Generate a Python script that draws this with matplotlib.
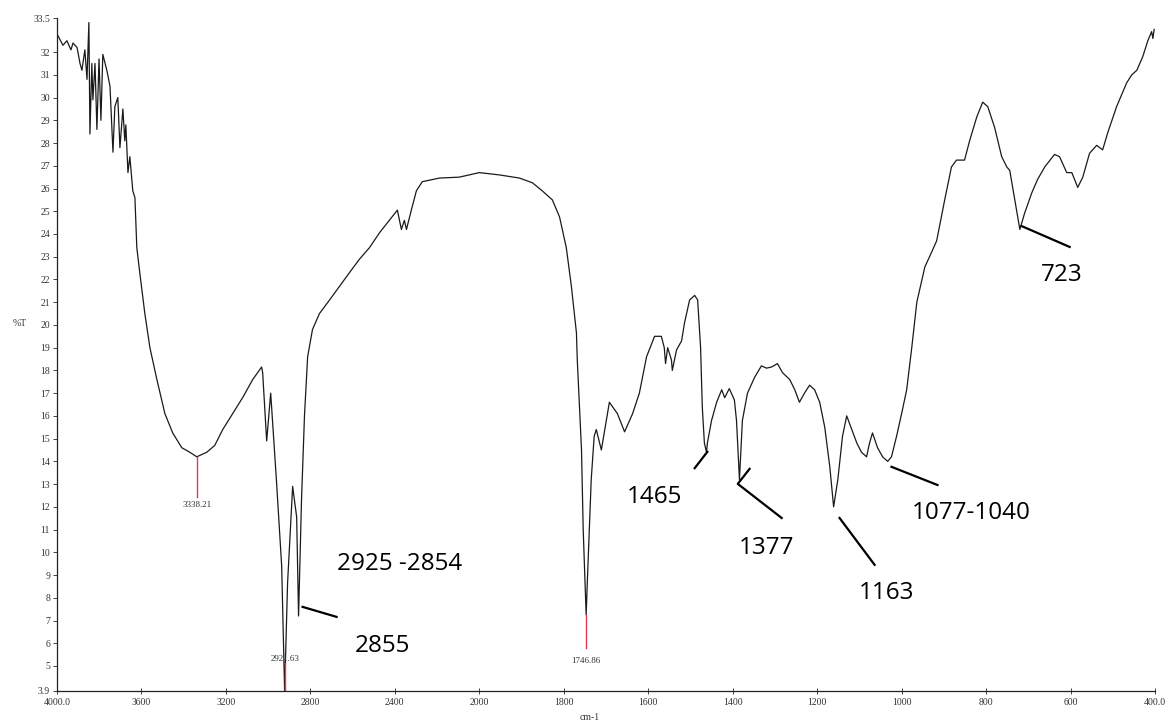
import matplotlib
matplotlib.use('Agg')
import matplotlib.pyplot as plt
import numpy as np

# FTIR transmittance spectrum (%T vs wavenumber)
wavenumber = [4000, 3972, 3953, 3934, 3924, 3905, 3891, 3882, 3868, 3858,
              3849, 3844, 3835, 3830, 3820, 3811, 3801, 3792, 3783, 3764,
              3749, 3735, 3726, 3712, 3702, 3688, 3679, 3674, 3664, 3655,
              3641, 3631, 3622, 3608, 3584, 3560, 3527, 3489, 3452, 3409,
              3371, 3338, 3291, 3253, 3215, 3168, 3121, 3073, 3031, 3026,
              3007, 2988, 2960, 2936, 2922, 2908, 2884, 2865, 2856, 2842,
              2828, 2813, 2790, 2757, 2709, 2662, 2615, 2567, 2520, 2473,
              2426, 2388, 2369, 2355, 2345, 2322, 2298, 2270, 2189, 2095,
              2000, 1953, 1905, 1874, 1851, 1827, 1810, 1794, 1782, 1770,
              1768, 1758, 1754, 1747, 1744, 1735, 1728, 1723, 1711, 1692,
              1673, 1656, 1637, 1621, 1604, 1585, 1569, 1562, 1559, 1554,
              1545, 1543, 1533, 1521, 1514, 1502, 1490, 1483, 1476, 1472,
              1467, 1462, 1460, 1450, 1438, 1426, 1419, 1408, 1396, 1391,
              1384, 1377, 1365, 1348, 1332, 1320, 1308, 1294, 1282, 1265,
              1253, 1242, 1230, 1218, 1206, 1194, 1182, 1170, 1161, 1151,
              1140, 1130, 1118, 1106, 1095, 1083, 1076, 1069, 1057, 1045,
              1033, 1024, 1012, 1000, 988, 976, 964, 945, 929, 917,
              898, 882, 870, 851, 839, 822, 808, 796, 780, 763,
              751, 744, 732, 720, 709, 692, 678, 661, 638, 626,
              609, 597, 583, 571, 555, 538, 524, 512, 491, 467,
              455, 443, 429, 417, 408, 405, 402]
transmittance = [32.8, 32.3, 32.5, 32.1, 32.4, 32.2, 31.5, 31.2, 32.1, 30.8,
                 33.3, 28.4, 31.5, 29.9, 31.5, 28.6, 31.7, 29.0, 31.9, 31.2,
                 30.5, 27.6, 29.6, 30.0, 27.8, 29.5, 28.1, 28.8, 26.7, 27.4,
                 25.9, 25.6, 23.4, 22.3, 20.5, 19.0, 17.6, 16.1, 15.25, 14.6,
                 14.4, 14.2, 14.4, 14.7, 15.4, 16.1, 16.8, 17.6, 18.15, 17.9,
                 14.9, 17.0, 13.05, 9.4, 3.9, 8.65, 12.9, 11.55, 7.2, 12.3,
                 16.0, 18.6, 19.8, 20.5, 21.1, 21.7, 22.3, 22.9, 23.4, 24.05,
                 24.6, 25.05, 24.2, 24.6, 24.2, 25.05, 25.9, 26.3, 26.46, 26.5,
                 26.7, 26.6, 26.46, 26.25, 25.9, 25.5, 24.75, 23.4, 21.7, 19.65,
                 18.46, 14.5, 11.0, 7.25, 8.8, 13.2, 15.1, 15.4, 14.5, 16.6,
                 16.1, 15.3, 16.1, 17.0, 18.6, 19.5, 19.5, 19.0, 18.3, 19.0,
                 18.46, 18.0, 18.9, 19.3, 20.1, 21.1, 21.3, 21.1, 19.0, 16.4,
                 14.8, 14.4, 14.8, 15.8, 16.6, 17.15, 16.8, 17.2, 16.7, 15.8,
                 13.2, 15.8, 17.0, 17.7, 18.2, 18.1, 18.15, 18.3, 17.9, 17.6,
                 17.15, 16.6, 17.0, 17.35, 17.15, 16.6, 15.5, 13.75, 12.0, 13.2,
                 15.1, 16.0, 15.4, 14.8, 14.4, 14.2, 14.8, 15.25, 14.6, 14.2,
                 14.0, 14.2, 15.1, 16.1, 17.15, 19.0, 21.0, 22.55, 23.2, 23.7,
                 25.5, 26.95, 27.25, 27.25, 28.1, 29.15, 29.8, 29.6, 28.7, 27.4,
                 26.95, 26.8, 25.5, 24.2, 24.9, 25.8, 26.4, 26.95, 27.5, 27.4,
                 26.7, 26.7, 26.05, 26.5, 27.55, 27.9, 27.7, 28.45, 29.6, 30.65,
                 31.0, 31.2, 31.8, 32.5, 32.9, 32.6, 33.0]

# peaks picked by the instrument software (red markers)
peak_pos = [3338.21, 2921.63, 1746.86]
peak_top = [14.2, 5.15, 7.25]
peak_bottom = [12.45, 3.9, 5.8]
peak_label_y = [12.1, 5.3, 5.2]

# hand-made band assignments: label, text position, leader segments
band_labels = ['2925 -2854', '2855', '1465', '1377', '1163', '1077-1040', '723']
band_text_x = [2378, 2459, 1585, 1320, 1035, 834, 621]
band_text_y = [9.5, 5.9, 12.45, 10.2, 8.2, 11.75, 22.2]
leaders = [
    [(2837, 7.6), (2676, 7.16)],
    [(1490, 13.7), (1460, 14.42)],
    [(1360, 13.67), (1388, 13.01), (1284, 11.51)],
    [(1147, 11.51), (1064, 9.45)],
    [(1024, 13.76), (915, 12.96)],
    [(716, 24.35), (602, 23.43)],
]

xticks = [4000, 3600, 3200, 2800, 2400, 2000, 1800, 1600, 1400, 1200, 1000, 800, 600, 400]
xticklabels = ['4000.0', '3600', '3200', '2800', '2400', '2000', '1800', '1600',
               '1400', '1200', '1000', '800', '600', '400.0']
yticks = [3.9] + list(range(5, 33)) + [33.5]
yticklabels = ['3.9'] + [str(v) for v in range(5, 33)] + ['33.5']


# scale change at 2000 cm-1: half scale above it
def fwd(w):
    w = np.asarray(w, dtype=float)
    return np.where(w > 2000, 2000 + (w - 2000) / 2.0, w)


def inv(u):
    u = np.asarray(u, dtype=float)
    return np.where(u > 2000, 2000 + 2.0 * (u - 2000), u)


fig = plt.figure(figsize=(11.7, 7.24), dpi=100)
ax = fig.add_axes([57 / 1170, 33 / 724, 1098 / 1170, 673 / 724])
ax.set_xscale('function', functions=(fwd, inv))

ax.plot(wavenumber, transmittance, color='#1a1a1a', lw=0.9)

for x, t, b, ly in zip(peak_pos, peak_top, peak_bottom, peak_label_y):
    ax.plot([x, x], [b, t], color='#e03a55', lw=1.0)
    ax.text(x, ly, '%.2f' % x, ha='center', va='center', fontsize=6.5,
            family='Liberation Serif', color='#333333')

for seg in leaders:
    xs = [p[0] for p in seg]
    ys = [p[1] for p in seg]
    ax.plot(xs, ys, color='black', lw=1.6)

for lab, x, y in zip(band_labels, band_text_x, band_text_y):
    ax.text(x, y, lab, ha='center', va='center', fontsize=17.5,
            family='Open Sans', color='black')

ax.set_xlim(4000, 400)
ax.set_ylim(3.9, 33.5)
ax.set_xticks(xticks)
ax.set_xticklabels(xticklabels)
ax.set_yticks(yticks)
ax.set_yticklabels(yticklabels)
ax.minorticks_off()

for lbl in ax.get_xticklabels() + ax.get_yticklabels():
    lbl.set_family('Liberation Serif')
    lbl.set_fontsize(7)
    lbl.set_color('#333333')

ax.tick_params(axis='x', direction='inout', length=4, width=0.7, pad=3, color='#444444')
ax.tick_params(axis='y', direction='out', length=3, width=0.7, pad=2, color='#444444')

for side in ['top', 'right']:
    ax.spines[side].set_visible(False)
for side in ['left', 'bottom']:
    ax.spines[side].set_linewidth(0.9)
    ax.spines[side].set_color('#222222')

fig.text(20 / 1170, 1 - 323 / 724, '%T', ha='center', va='center', fontsize=7,
         family='Liberation Serif', color='#333333')
fig.text(590 / 1170, 1 - 718 / 724, 'cm-1', ha='center', va='center', fontsize=7,
         family='Liberation Serif', color='#333333')

fig.savefig('out.png', dpi=100, facecolor='white')
